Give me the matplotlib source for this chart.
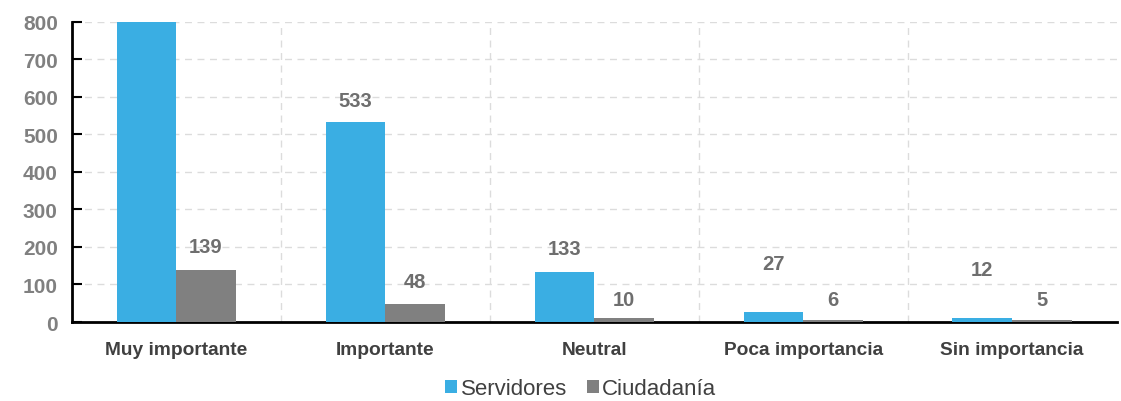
import matplotlib
matplotlib.use("Agg")
import matplotlib.pyplot as plt
import numpy as np

categories = ["Muy importante", "Importante", "Neutral", "Poca importancia", "Sin importancia"]
servidores = [1000, 533, 133, 27, 12]   # first bar runs off the top of the chart
ciudadania = [139, 48, 10, 6, 5]
serv_label_offset = [60, 57, 62, 128, 129]
ciud_label_offset = [61, 59, 51, 55, 56]
y_ticks = [0, 100, 200, 300, 400, 500, 600, 700, 800]
Y_MAX = 800

BLUE = "#3AAEE3"
GRAY = "#808080"

plt.rcParams["font.family"] = ["Liberation Sans", "DejaVu Sans"]

fig = plt.figure(figsize=(11.21, 4.02), dpi=100)
ax = fig.add_axes([0.064, 0.1965, 0.932, 0.7465])

x = np.arange(len(categories))
w = 0.285
ax.bar(x - w / 2, servidores, w, color=BLUE, label="Servidores", zorder=3)
ax.bar(x + w / 2, ciudadania, w, color=GRAY, label="Ciudadanía", zorder=3)

# value labels; the one above the chart top is not shown in the original
for i in range(len(categories)):
    for xpos, val, off in [(x[i] - w / 2, servidores[i], serv_label_offset[i]),
                           (x[i] + w / 2, ciudadania[i], ciud_label_offset[i])]:
        if val + off > Y_MAX:
            continue
        ax.text(xpos, val + off, str(val), ha="center", va="center",
                fontsize=14.5, fontweight="bold", color="#6e6e6e", zorder=4)

ax.set_xlim(-0.5, len(categories) - 0.5)
ax.set_ylim(0, Y_MAX)
ax.set_yticks(y_ticks)
ax.set_xticks(x)
ax.set_xticklabels(categories, fontsize=13.8, fontweight="bold", color="#404040")
for lbl in ax.get_yticklabels():
    lbl.set_fontsize(15)
    lbl.set_fontweight("bold")
    lbl.set_color("#808080")

ax.tick_params(axis="x", length=0, pad=14)
ax.tick_params(axis="y", direction="in", length=7, width=1.5, pad=10)

# dashed grid: horizontal at ticks, vertical between categories
ax.set_xticks(np.arange(0.5, len(categories) - 0.5), minor=True)
ax.tick_params(axis="x", which="minor", length=0)
ax.grid(axis="y", linestyle=(0, (5, 4)), color="#dcdcdc", linewidth=1, zorder=0)
ax.grid(axis="x", which="minor", linestyle=(0, (5, 4)), color="#dcdcdc", linewidth=1, zorder=0)
ax.grid(axis="x", which="major", visible=False)

for side in ["top", "right"]:
    ax.spines[side].set_visible(False)
ax.spines["left"].set_linewidth(2)
ax.spines["bottom"].set_linewidth(2)

fig.legend(loc="lower center", bbox_to_anchor=(0.518, -0.04), ncol=2, frameon=False,
           fontsize=16, handlelength=0.55, handleheight=0.55, handletextpad=0.15,
           columnspacing=0.9, labelcolor="#404040", borderpad=0.3)

fig.savefig("out.png", dpi=100)
